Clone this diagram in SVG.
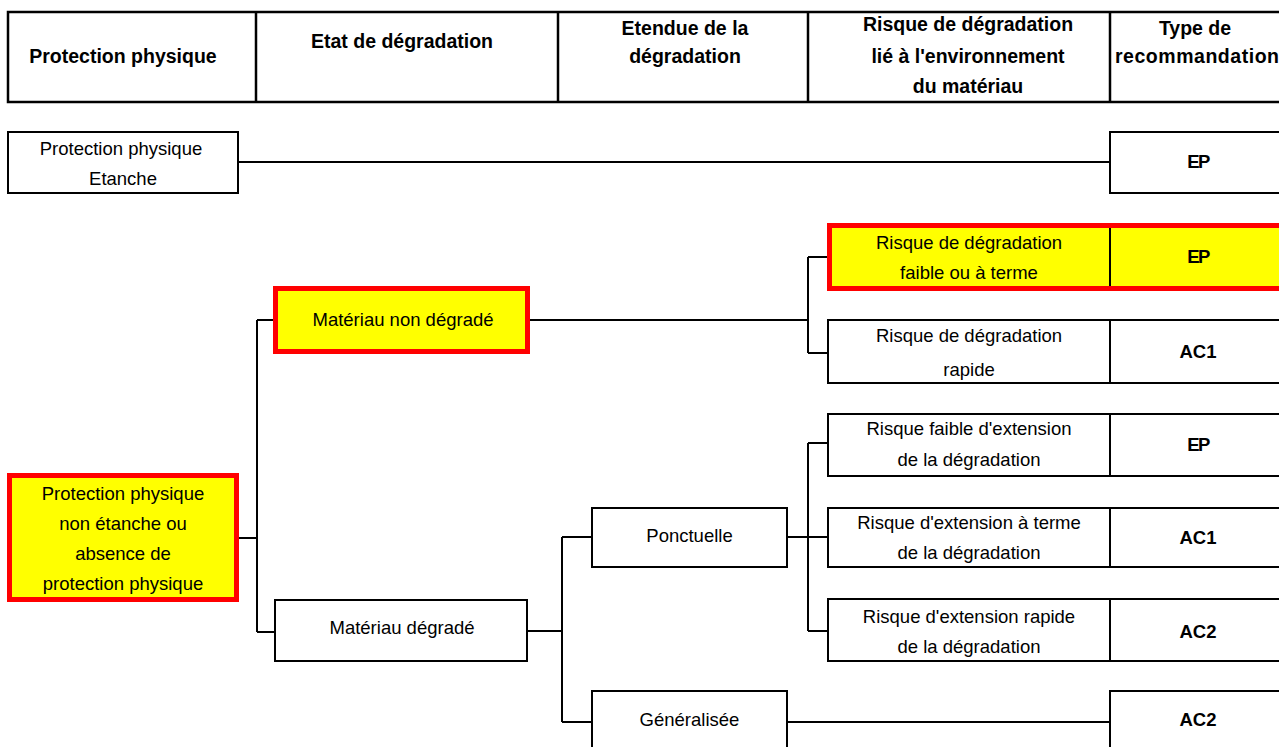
<svg xmlns="http://www.w3.org/2000/svg" width="1279" height="747" viewBox="0 0 1279 747">
<style>
.t{font-family:"Liberation Sans",Arial,sans-serif;font-size:18.5px;fill:#000;text-anchor:middle}
.h{font-family:"Liberation Sans",Arial,sans-serif;font-size:19.5px;font-weight:bold;fill:#000;text-anchor:middle}
.b{font-family:"Liberation Sans",Arial,sans-serif;font-size:18.5px;font-weight:bold;fill:#000;text-anchor:middle}
.ep{letter-spacing:-1.5px}
.box{fill:#fff;stroke:#000;stroke-width:2}
.hl{fill:#ffff00;stroke:#ff0000;stroke-width:5}
.sep{stroke:#000;stroke-width:2}
.hd{fill:none;stroke:#000;stroke-width:2.5}
.c{fill:none;stroke:#000;stroke-width:2}
</style>
<rect width="1279" height="747" fill="#fff"/>
<g id="header">
<rect class="hd" x="8" y="12" width="1290" height="90"/>
<line class="hd" x1="256" y1="12" x2="256" y2="102"/>
<line class="hd" x1="558" y1="12" x2="558" y2="102"/>
<line class="hd" x1="808" y1="12" x2="808" y2="102"/>
<line class="hd" x1="1110" y1="12" x2="1110" y2="102"/>
<text class="h" x="123" y="63">Protection physique</text>
<text class="h" x="402" y="48">Etat de dégradation</text>
<text class="h" x="685" y="35">Etendue de la</text>
<text class="h" x="685" y="63">dégradation</text>
<text class="h" x="968" y="31">Risque de dégradation</text>
<text class="h" x="968" y="63">lié à l'environnement</text>
<text class="h" x="968" y="93">du matériau</text>
<text class="h" x="1195" y="35">Type de</text>
<text class="h" x="1197" y="63" textLength="164" lengthAdjust="spacing">recommandation</text>
</g>
<g id="connectors">
<path class="c" d="M238 162H1110"/>
<path class="c" d="M239 538H257M257 320V632M257 320H273M257 632H275"/>
<path class="c" d="M530 320H808M808 257V353M808 257H827M808 353H828"/>
<path class="c" d="M527 631H562M562 537V722M562 537H592M562 722H592"/>
<path class="c" d="M787 537H828M808 443V631M808 443H828M808 631H828"/>
<path class="c" d="M787 722H1110"/>
</g>
<g id="etanche">
<rect class="box" x="8" y="132" width="230" height="61"/>
<text class="t" x="121" y="155">Protection physique</text>
<text class="t" x="123" y="185">Etanche</text>
</g>
<g id="ep-etanche">
<rect class="box" x="1110" y="132" width="180" height="61"/>
<text class="b ep" x="1198" y="168">EP</text>
</g>
<g id="non-etanche">
<rect class="hl" x="9.5" y="475.5" width="227" height="124"/>
<text class="t" x="123" y="500">Protection physique</text>
<text class="t" x="123" y="530">non étanche ou</text>
<text class="t" x="123" y="560">absence de</text>
<text class="t" x="123" y="590">protection physique</text>
</g>
<g id="non-degrade">
<rect class="hl" x="275.5" y="288.5" width="252" height="63"/>
<text class="t" x="403" y="326">Matériau non dégradé</text>
</g>
<g id="degrade">
<rect class="box" x="275" y="600" width="252" height="61"/>
<text class="t" x="402" y="634">Matériau dégradé</text>
</g>
<g id="risque-faible">
<rect class="hl" x="829.5" y="225.5" width="470" height="63"/>
<line class="sep" x1="1110" y1="228" x2="1110" y2="286"/>
<text class="t" x="969" y="249">Risque de dégradation</text>
<text class="t" x="969" y="279">faible ou à terme</text>
<text class="b ep" x="1198" y="263">EP</text>
</g>
<g id="risque-rapide">
<rect class="box" x="828" y="320" width="470" height="63"/>
<line class="sep" x1="1110" y1="320" x2="1110" y2="383"/>
<text class="t" x="969" y="342">Risque de dégradation</text>
<text class="t" x="969" y="376">rapide</text>
<text class="b" x="1198" y="358">AC1</text>
</g>
<g id="ponctuelle">
<rect class="box" x="592" y="508" width="195" height="59"/>
<text class="t" x="689.5" y="542">Ponctuelle</text>
</g>
<g id="generalisee">
<rect class="box" x="592" y="691" width="195" height="70"/>
<text class="t" x="689.5" y="726">Généralisée</text>
</g>
<g id="ext-faible">
<rect class="box" x="828" y="414" width="470" height="62"/>
<line class="sep" x1="1110" y1="414" x2="1110" y2="476"/>
<text class="t" x="969" y="435">Risque faible d'extension</text>
<text class="t" x="969" y="466">de la dégradation</text>
<text class="b ep" x="1198" y="451">EP</text>
</g>
<g id="ext-terme">
<rect class="box" x="828" y="508" width="470" height="59"/>
<line class="sep" x1="1110" y1="508" x2="1110" y2="567"/>
<text class="t" x="969" y="529">Risque d'extension à terme</text>
<text class="t" x="969" y="559">de la dégradation</text>
<text class="b" x="1198" y="544">AC1</text>
</g>
<g id="ext-rapide">
<rect class="box" x="828" y="599" width="470" height="62"/>
<line class="sep" x1="1110" y1="599" x2="1110" y2="661"/>
<text class="t" x="969" y="623">Risque d'extension rapide</text>
<text class="t" x="969" y="653">de la dégradation</text>
<text class="b" x="1198" y="638">AC2</text>
</g>
<g id="ac2-generalisee">
<rect class="box" x="1110" y="691" width="180" height="70"/>
<text class="b" x="1198" y="726">AC2</text>
</g>
</svg>
